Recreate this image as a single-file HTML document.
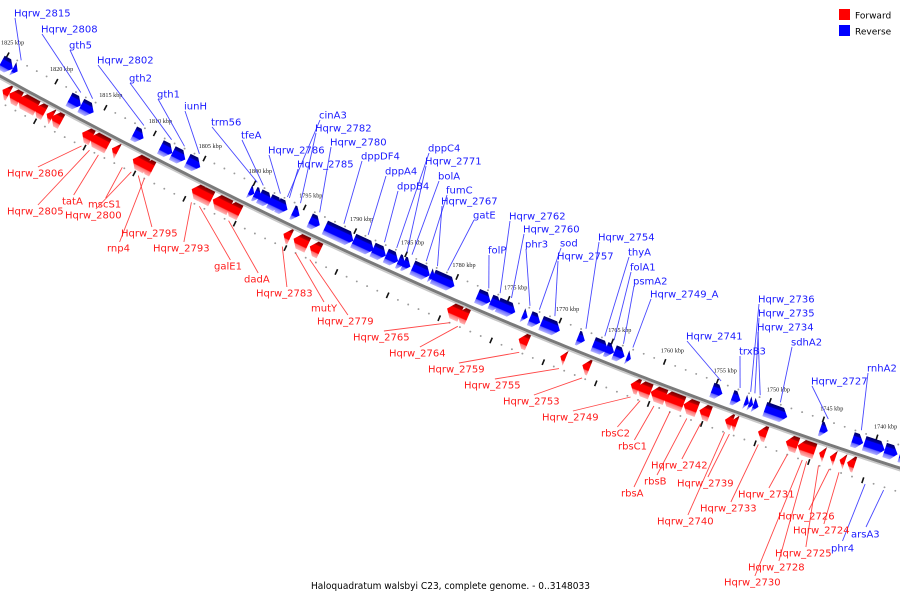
<!DOCTYPE html>
<html><head><meta charset="utf-8"><style>
html,body{margin:0;padding:0;background:#fff;}
svg{display:block;}
</style></head><body>
<svg id="map" width="900" height="600" viewBox="0 0 900 600" xmlns="http://www.w3.org/2000/svg">
<defs>
<linearGradient id="gBlue" x1="0" y1="0" x2="0" y2="1">
<stop offset="0" stop-color="#000060"/><stop offset="0.22" stop-color="#0000a8"/><stop offset="0.27" stop-color="#0000ff"/><stop offset="0.68" stop-color="#0000ff"/><stop offset="0.74" stop-color="#6a6aff"/><stop offset="1" stop-color="#b4b4ff"/>
</linearGradient>
<linearGradient id="gRed" x1="0" y1="0" x2="0" y2="1">
<stop offset="0" stop-color="#700000"/><stop offset="0.22" stop-color="#b80000"/><stop offset="0.27" stop-color="#ff0000"/><stop offset="0.68" stop-color="#ff0000"/><stop offset="0.74" stop-color="#ff7070"/><stop offset="1" stop-color="#ffb8b8"/>
</linearGradient>
</defs>
<g id="rings"></g>
<g id="backbone"></g>
<g id="genes"></g>
<g id="leaders"></g>
<g id="labels"></g>
<g>
<rect x="839" y="9" width="11" height="11" fill="#ff0000"/>
<text x="855" y="18.5" font-family="DejaVu Sans, sans-serif" font-size="9" fill="#000">Forward</text>
<rect x="839" y="25" width="11" height="11" fill="#0000ff"/>
<text x="855" y="34.5" font-family="DejaVu Sans, sans-serif" font-size="9" fill="#000">Reverse</text>
</g>
<text x="311" y="589" textLength="279" lengthAdjust="spacingAndGlyphs" font-family="DejaVu Sans, sans-serif" font-size="9.5" fill="#000">Haloquadratum walsbyi C23, complete genome. - 0..3148033</text>
</svg>
<script>
// ---- data (kbp) ----
const revLo=[1824.0,1823.5,1817.05,1815.75,1810.7,1807.8,1806.5,1805.0,1799.6,1798.9,1797.9,1796.9,1796.3,1795.1,1793.1,1789.8,1787.8,1786.6,1785.4,1784.7,1784.2,1782.3,1781.8,1779.9,1776.4,1775.4,1774.0,1772.8,1771.6,1769.7,1767.3,1765.1,1764.5,1763.5,1762.9,1754.2,1752.5,1751.7,1751.3,1750.8,1748.1,1744.3,1741.0,1739.0,1737.8,1736.9];
const revHi=[1825.2,1824.0,1818.25,1817.05,1811.7,1809.0,1807.8,1806.3,1800.1,1799.6,1799.1,1798.1,1797.3,1795.8,1794.1,1792.6,1789.8,1787.9,1786.6,1785.4,1784.9,1784.0,1782.3,1782.0,1777.7,1776.4,1775.7,1773.3,1772.6,1771.5,1768.0,1766.5,1765.3,1764.5,1763.3,1755.2,1753.3,1752.1,1751.7,1751.3,1750.2,1745.0,1742.0,1740.9,1739.0,1737.6];
const fwdLo=[1823.2,1822.1,1820.4,1819.6,1818.8,1817.9,1814.8,1813.2,1812.2,1809.3,1808.7,1803.8,1802.8,1801.0,1800.0,1795.0,1793.3,1792.1,1778.4,1777.7,1771.9,1768.3,1766.0,1761.3,1760.2,1758.8,1757.1,1755.8,1754.6,1752.5,1752.1,1749.3,1746.4,1744.8,1743.9,1742.9,1742.0,1741.1,1736.0];
const fwdHi=[1823.9,1823.2,1822.3,1820.6,1819.4,1818.9,1815.8,1815.0,1812.8,1810.7,1809.7,1804.8,1804.3,1802.7,1801.3,1795.7,1794.7,1793.1,1779.7,1778.7,1772.8,1768.8,1766.7,1762.1,1761.5,1760.2,1759.0,1757.1,1755.6,1753.2,1752.7,1750.1,1747.5,1746.4,1744.4,1743.4,1742.5,1741.8,1736.9];
const tickKbp=[1825,1820,1815,1810,1805,1800,1795,1790,1785,1780,1775,1770,1765,1760,1755,1750,1745,1740];
const tickLabels=tickKbp.map(k=>k+' kbp');
const revNames=['Hqrw_2815','Hqrw_2808','gth5','Hqrw_2802','gth2','gth1','iunH','trm56','tfeA','Hqrw_2786','cinA3','Hqrw_2785','Hqrw_2782','Hqrw_2780','dppDF4','dppA4','dppB4','dppC4','Hqrw_2771','bolA','fumC','Hqrw_2767','gatE','folP','Hqrw_2762','Hqrw_2760','phr3','sod','Hqrw_2757','Hqrw_2754','thyA','folA1','psmA2','Hqrw_2749_A','Hqrw_2741','trxB3','Hqrw_2736','Hqrw_2735','Hqrw_2734','sdhA2','Hqrw_2727','rnhA2','phr4','arsA3'];
const revTarget=[1823.7,1817.6,1816.4,1811.2,1808.4,1807.1,1805.6,1799.8,1799.2,1797.5,1796.8,1796.6,1795.5,1793.6,1791.2,1788.8,1787.2,1786.0,1785.0,1784.5,1783.1,1782.0,1781.0,1777.0,1775.9,1774.8,1773.0,1772.1,1770.6,1767.6,1765.8,1764.9,1764.0,1763.1,1754.7,1752.9,1751.9,1751.5,1751.0,1749.1,1744.6,1741.5,1739.7,1738.0];
const fwdNames=['Hqrw_2806','Hqrw_2805','tatA','mscS1','Hqrw_2800','Hqrw_2795','rnp4','Hqrw_2793','galE1','dadA','Hqrw_2783','mutY','Hqrw_2779','Hqrw_2765','Hqrw_2764','Hqrw_2759','Hqrw_2755','Hqrw_2753','Hqrw_2749','rbsC2','rbsC1','rbsA','rbsB','Hqrw_2742','Hqrw_2739','Hqrw_2740','Hqrw_2733','Hqrw_2731','Hqrw_2730','Hqrw_2728','Hqrw_2725','Hqrw_2726','Hqrw_2724'];
const fwdTarget=[1815.3,1814.5,1813.6,1811.2,1810.3,1809.6,1809.0,1804.3,1803.5,1800.6,1795.3,1794.0,1792.6,1779.0,1778.2,1772.3,1768.5,1766.3,1761.7,1760.8,1759.5,1758.0,1756.4,1755.1,1752.4,1752.85,1749.7,1747.0,1745.6,1745.2,1744.1,1743.1,1742.2];
// ---- label layout (text left x, text centre y) ----
const revLabelLayout=[[14,13],[41,29],[69,45],[97,60],[129,78],[157,94],[184,106],[211,122],[241,135],[268,150],[319,115],[297,164],[315,128],[330,142],[361,156],[385,171],[397,186],[428,148],[425,161],[438,176],[446,190],[441,201],[473,215],[488,250],[509,216],[523,229],[525,244],[560,243],[557,256],[598,237],[628,252],[630,267],[633,281],[650,294],[686,336],[739,351],[758,299],[758,313],[757,327],[791,342],[811,381],[867,368],[831,548],[851,534]];
const fwdLabelLayout=[[7,173],[7,211],[62,201],[88,204],[65,215],[121,233],[107,248],[153,248],[214,266],[244,279],[256,293],[311,308],[317,321],[353,337],[389,353],[428,369],[464,385],[503,401],[542,417],[601,433],[618,446],[621,493],[644,481],[651,465],[677,483],[657,521],[700,508],[738,494],[724,582],[748,567],[775,553],[778,516],[793,530]];

// ---- axis functions ----
function by(x){return 76+0.55*x-0.000127*x*x;}
function slope(x){return 0.55-0.000254*x;}
function kbpToX(k){const u=1825-k;return -3+9.762*u+0.00598*u*u;}
function pt(k,d){const x0=kbpToX(k),s=slope(x0),N=Math.sqrt(1+s*s);return [x0-d*s/N, by(x0)+d/N];}
const NS='http://www.w3.org/2000/svg';
function mk(tag,attrs,parent){const e=document.createElementNS(NS,tag);for(const a in attrs)e.setAttribute(a,attrs[a]);parent.appendChild(e);return e;}

const rings=document.getElementById('rings');
const RUP=-22,RDN=23;
for(let k=1827;k>=1733;k--){
  if(k%5===0)continue;
  [RUP,RDN].forEach(d=>{const p=pt(k,d);
    const c=mk('circle',{cx:p[0].toFixed(1),cy:p[1].toFixed(1),r:0.95,fill:'#9a9a9a'},rings);
    
    });
}
tickKbp.forEach((k,i)=>{
  [RUP,RDN].forEach(d=>{const a=pt(k,d-3),b=pt(k,d+3);
    const l=mk('line',{x1:a[0],y1:a[1],x2:b[0],y2:b[1],stroke:'#111','stroke-width':1.6},rings);
    
    });
  const x0=kbpToX(k);
  const t=mk('text',{x:(x0+4).toFixed(1),y:(by(x0)-30).toFixed(1),'font-family':'Liberation Serif, serif','font-size':6.2,fill:'#222'},rings);
  t.textContent=tickLabels[i];
  
  
});

const bb=document.getElementById('backbone');
let pts=[],pts2=[];
for(let x=-5;x<=905;x+=5){pts.push(x+','+by(x).toFixed(2));pts2.push((x-1)+','+(by(x)+2.2).toFixed(2));}
const sh=mk('polyline',{points:pts2.join(' '),fill:'none',stroke:'#c8c8c8','stroke-width':1.6},bb);


const ln=mk('polyline',{points:pts.join(' '),fill:'none',stroke:'#7a7a7a','stroke-width':3},bb);



const genes=document.getElementById('genes');
function drawGene(lo,hi,strand,idx){
  const xL=kbpToX(hi),xR=kbpToX(lo),xm=(xL+xR)/2,s=slope(xm);
  const L=(xR-xL)*Math.sqrt(1+s*s),ang=Math.atan(s)*180/Math.PI;
  const N=Math.sqrt(1+s*s);
  const d0=strand>0?3:-20,d1=strand>0?19:-5,dm=(d0+d1)/2;
  const px=xm-dm*s/N,py=by(xm)+dm/N;
  const h=Math.min(6,L),a=-L/2,b=L/2,y0=d0-dm,y1=d1-dm;
  let poly;
  if(strand<0) poly=[[a,y0],[b-h,y0],[b,0],[b-h,y1],[a,y1]];
  else poly=[[b,y0],[a+h,y0],[a,0],[a+h,y1],[b,y1]];
  const g=mk('polygon',{points:poly.map(p=>p[0].toFixed(2)+','+p[1].toFixed(2)).join(' '),fill:strand>0?'url(#gRed)':'url(#gBlue)',transform:'translate('+px.toFixed(2)+','+py.toFixed(2)+') rotate('+ang.toFixed(2)+')'},genes);
  
  
}
revLo.forEach((v,i)=>drawGene(v,revHi[i],-1,i));
fwdLo.forEach((v,i)=>drawGene(v,fwdHi[i],1,i));

const leaders=document.getElementById('leaders'),labels=document.getElementById('labels');
function charW(t){let w=0;for(const c of t){w+= /[Hw]/.test(c)?7.8:/[_]/.test(c)?5:/[rtfl]/.test(c)?4:/[iIj]/.test(c)?2.8:/[A-Z]/.test(c)?7:6.3;}return w;}
function drawLabel(name,lay,k,color,side){
  const w=charW(name);
  let sx,sy,e;
  if(side<0){sx=lay[0]+1;sy=lay[1]+5;e=pt(k,-24);}
  else {sx=lay[0]+w*0.55;sy=lay[1]-6;e=pt(k,23);}
  if(name==='phr4'||name==='arsA3'){sx=lay[0]+w*0.5;sy=lay[1]-7;e=pt(k,26);}
  const l=mk('line',{x1:sx.toFixed(1),y1:sy.toFixed(1),x2:e[0].toFixed(1),y2:e[1].toFixed(1),stroke:color,'stroke-width':0.9,opacity:0.8},leaders);
  
  
  const t=mk('text',{x:lay[0],y:(lay[1]+3.7).toFixed(1),'font-family':'DejaVu Sans, sans-serif','font-size':10,fill:color},labels);
  t.textContent=name;
  
  
}
revNames.forEach((n,i)=>drawLabel(n,revLabelLayout[i],revTarget[i],'#1a1aff',(n==='phr4'||n==='arsA3')?1:-1));
fwdNames.forEach((n,i)=>drawLabel(n,fwdLabelLayout[i],fwdTarget[i],'#ff1a1a',1));
</script>
</body></html>
